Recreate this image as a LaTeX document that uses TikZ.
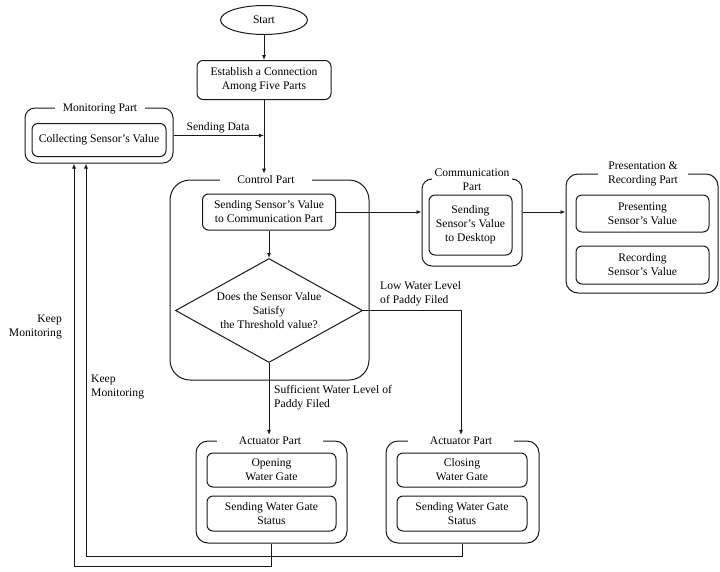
\documentclass[tikz,border=0pt]{standalone}
\usepackage{fontspec}
\setmainfont{Liberation Serif}
\usetikzlibrary{shapes.geometric,arrows.meta}
\begin{document}
\begin{tikzpicture}[x=1pt,y=-1pt,
  every node/.style={font=\fontsize{11.6}{14}\selectfont, align=center, inner sep=0pt, text=black},
  line/.style={draw=black!90, line width=1pt},
  arr/.style={line, -{Latex[length=5pt,width=4pt]}},
  outerbox/.style={line, rounded corners=#1},
  outerbox/.default=12pt,
  innerbox/.style={line, rounded corners=6pt},
  title/.style={fill=white, inner xsep=8pt, inner ysep=2pt},
  lbl/.style={inner sep=0pt}
]
\useasboundingbox (0,0) rectangle (720,571);

% Start and connection
\node[line, ellipse, minimum width=87pt, minimum height=29pt] (start) at (264,20) {Start};
\node[innerbox, minimum width=134pt, minimum height=39pt] (estab) at (264,80) {Establish a Connection\\Among Five Parts};

% Monitoring part
\node[outerbox=10pt, minimum width=148pt, minimum height=55pt] (monout) at (99,135.5) {};
\node[innerbox, minimum width=134pt, minimum height=33pt] (moninner) at (99,140) {Collecting Sensor’s Value};
\node[title] (montitle) at (100,109) {Monitoring Part};

% Control part
\node[outerbox=20pt, minimum width=199pt, minimum height=200pt] (ctrlout) at (269.5,280) {};
\node[title, inner xsep=17pt] (ctrltitle) at (266,180) {Control Part};
\node[innerbox, minimum width=133pt, minimum height=36pt] (csend) at (269,212) {Sending Sensor’s Value\\to Communication Part};
\node[line, diamond, aspect=1.8, minimum width=187pt, minimum height=104pt] (dec) at (269,310.5) {Does the Sensor Value\\Satisfy\\the Threshold value?};

% Communication part
\node[outerbox=10pt, minimum width=100pt, minimum height=87pt] (commout) at (472,222.5) {};
\node[title, inner xsep=3pt] (commtitle) at (472,180) {Communication\\Part};
\node[innerbox, minimum width=83pt, minimum height=60pt] (comminner) at (470.5,225) {Sending\\Sensor’s Value\\to Desktop};

% Presentation part
\node[outerbox=12pt, minimum width=152pt, minimum height=119pt] (presout) at (642,233.5) {};
\node[title, inner xsep=10pt] (prestitle) at (643,174) {Presentation \&\\Recording Part};
\node[innerbox, minimum width=133pt, minimum height=37pt] (pres1) at (642.5,213.5) {Presenting\\Sensor’s Value};
\node[innerbox, minimum width=133pt, minimum height=38pt] (pres2) at (642.5,265) {Recording\\Sensor’s Value};

% Actuator left
\node[outerbox=12pt, minimum width=151pt, minimum height=102pt] (actL) at (271.5,492) {};
\node[title, inner xsep=22pt] (actLtitle) at (270,441) {Actuator Part};
\node[innerbox, minimum width=129pt, minimum height=34pt] (actL1) at (271.5,470) {Opening\\Water Gate};
\node[innerbox, minimum width=129pt, minimum height=35pt] (actL2) at (271.5,513.5) {Sending Water Gate\\Status};

% Actuator right
\node[outerbox=12pt, minimum width=153pt, minimum height=102pt] (actR) at (462.5,492) {};
\node[title, inner xsep=22pt] (actRtitle) at (461,441) {Actuator Part};
\node[innerbox, minimum width=130pt, minimum height=34pt] (actR1) at (462,470) {Closing\\Water Gate};
\node[innerbox, minimum width=130pt, minimum height=35pt] (actR2) at (462,513.5) {Sending Water Gate\\Status};

% Labels
\node[lbl] (sdlbl) at (218,128) {Sending Data};
\node[lbl, anchor=west, align=left] (lowlbl) at (380,294) {Low Water Level\\of Paddy Filed};
\node[lbl, anchor=west, align=left] (suflbl) at (274,398) {Sufficient Water Level of\\Paddy Filed};
\node[lbl, anchor=east, align=right] (km1) at (62,327) {Keep\\Monitoring};
\node[lbl, anchor=west, align=left] (km2) at (91,387) {Keep\\Monitoring};

% Connectors
\coordinate (join) at (264,135.5);
\coordinate (loopA) at (74,566);
\coordinate (loopB) at (86,556);
\draw[arr] (start) -- (estab);
\draw[arr] (estab) -- (estab.south |- ctrltitle.north);
\draw[arr] (monout.east) -- (join);
\draw[arr] (csend) -- (dec);
\draw[arr] (csend.east) -- (commout.west |- csend.east);
\draw[arr] (commout.east |- csend.east) -- (presout.west |- csend.east);
\draw[arr] (dec.east) -| (actRtitle.north);
\draw[arr] (dec.south) -- (actLtitle.north -| dec.south);
\draw[arr] (actL.south) |- (loopA) -- (loopA |- monout.south);
\draw[arr] (actR.south) |- (loopB) -- (loopB |- monout.south);
\end{tikzpicture}
\end{document}
